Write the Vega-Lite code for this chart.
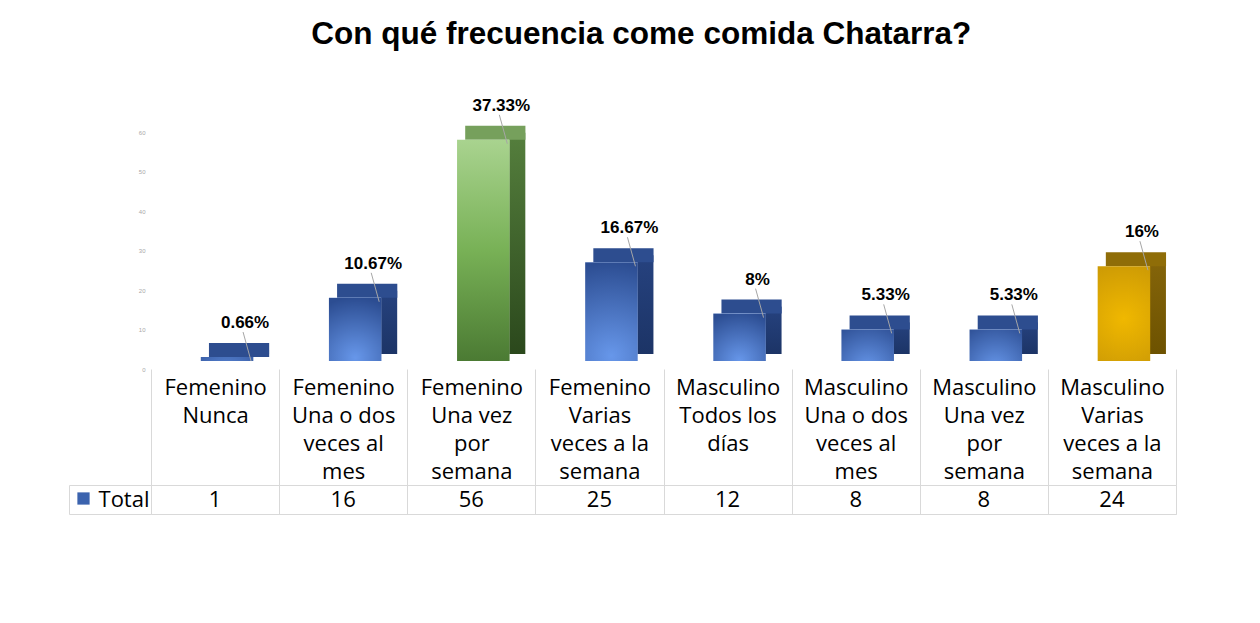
{
  "$schema": "https://vega.github.io/schema/vega-lite/v6.json",
  "background": "white",
  "padding": {"left": 68, "top": 19, "right": 80, "bottom": 100},
  "title": {"text": "Con qué frecuencia come comida Chatarra?", "font": "Liberation Sans", "fontSize": 31.5, "fontWeight": "bold", "color": "#000000", "anchor": "middle", "dx": 19, "offset": 46},
  "datasets": {
    "d": [
      {"Categoria": "Femenino\nNunca", "Total": 1, "Porcentaje": "0.66%"},
      {"Categoria": "Femenino\nUna o dos\nveces al\nmes", "Total": 16, "Porcentaje": "10.67%"},
      {"Categoria": "Femenino\nUna vez\npor\nsemana", "Total": 56, "Porcentaje": "37.33%"},
      {"Categoria": "Femenino\nVarias\nveces a la\nsemana", "Total": 25, "Porcentaje": "16.67%"},
      {"Categoria": "Masculino\nTodos los\ndías", "Total": 12, "Porcentaje": "8%"},
      {"Categoria": "Masculino\nUna o dos\nveces al\nmes", "Total": 8, "Porcentaje": "5.33%"},
      {"Categoria": "Masculino\nUna vez\npor\nsemana", "Total": 8, "Porcentaje": "5.33%"},
      {"Categoria": "Masculino\nVarias\nveces a la\nsemana", "Total": 24, "Porcentaje": "16%"}
    ]
  },
  "bounds": "flush",
  "spacing": 116,
  "resolve": {"scale": {"x": "independent", "y": "independent"}},
  "vconcat": [
    {
      "width": 1025,
      "height": 237,
      "data": {"name": "d"},
      "encoding": {
        "x": {
          "field": "Categoria", "type": "nominal", "sort": null,
          "scale": {"paddingInner": 0, "paddingOuter": 0},
          "axis": {
            "title": null, "domain": false, "ticks": true, "tickBand": "extent",
            "tickSize": 116, "tickColor": "#d9d9d9", "tickWidth": 1,
            "labelExpr": "split(datum.label, '\\n')", "labelAngle": 0,
            "labelBaseline": "top", "labelPadding": -108, "labelLineHeight": 28,
            "labelFont": "Open Sans", "labelFontSize": 22, "labelColor": "#000000",
            "labelLimit": 0, "labelOverlap": false, "labelBound": false, "labelFlush": false
          }
        },
        "y": {
          "field": "Total", "type": "quantitative",
          "scale": {"domain": [0, 60], "nice": false},
          "axis": {
            "title": null, "domain": false, "ticks": false, "grid": false,
            "values": [0, 10, 20, 30, 40, 50, 60],
            "labelFont": "Liberation Sans", "labelFontSize": 6, "labelColor": "#a8a8a8", "labelPadding": 6
          }
        }
      },
      "layer": [
        {
          "mark": {"type": "bar", "width": 16, "xOffset": 46, "yOffset": -15, "y2Offset": -15},
          "encoding": {
            "y2": {"datum": 0},
            "color": {
              "condition": [
                {"test": "datum.Total == 56", "value": {"gradient": "linear", "x1": 0, "y1": 0, "x2": 0, "y2": 1, "stops": [{"offset": 0, "color": "#557f3d"}, {"offset": 1, "color": "#2b481c"}]}},
                {"test": "datum.Total == 24", "value": {"gradient": "linear", "x1": 0, "y1": 0, "x2": 0, "y2": 1, "stops": [{"offset": 0, "color": "#85650a"}, {"offset": 1, "color": "#6d5200"}]}}
              ],
              "value": {"gradient": "linear", "x1": 0, "y1": 0, "x2": 0, "y2": 1, "stops": [{"offset": 0, "color": "#26427f"}, {"offset": 1, "color": "#1c3466"}]}
            }
          }
        },
        {
          "mark": {"type": "bar", "width": {"band": 0.47}, "xOffset": 24, "yOffset": -22, "y2Offset": -8},
          "encoding": {
            "y2": {"field": "Total"},
            "color": {
              "condition": [
                {"test": "datum.Total == 56", "value": "#76a05c"},
                {"test": "datum.Total == 24", "value": "#8f6d08"}
              ],
              "value": "#2d4d8f"
            }
          }
        },
        {
          "mark": {"type": "bar", "width": {"band": 0.41}, "xOffset": 12, "yOffset": -8, "y2Offset": -8},
          "encoding": {
            "y2": {"datum": 0},
            "color": {
              "condition": [
                {"test": "datum.Total == 56", "value": {"gradient": "linear", "x1": 0, "y1": 0, "x2": 0, "y2": 1, "stops": [{"offset": 0, "color": "#a9d38f"}, {"offset": 0.5, "color": "#78b156"}, {"offset": 1, "color": "#4b7a33"}]}},
                {"test": "datum.Total == 24", "value": {"gradient": "radial", "x1": 0.5, "y1": 0.55, "r1": 0, "x2": 0.5, "y2": 0.55, "r2": 0.75, "stops": [{"offset": 0, "color": "#f0b800"}, {"offset": 1, "color": "#c49306"}]}}
              ],
              "value": {"gradient": "radial", "x1": 0.5, "y1": 0.95, "r1": 0, "x2": 0.5, "y2": 0.95, "r2": 0.95, "stops": [{"offset": 0, "color": "#6797ea"}, {"offset": 1, "color": "#2c4d92"}]}
            }
          }
        },
        {
          "mark": {"type": "rule", "color": "#a6a6a6", "strokeWidth": 1, "xOffset": 28, "x2Offset": 36, "yOffset": -33, "y2Offset": -4},
          "encoding": {
            "x2": {"field": "Categoria"},
            "y2": {"field": "Total"}
          }
        },
        {
          "mark": {"type": "text", "font": "Liberation Sans", "fontWeight": "bold", "fontSize": 17, "color": "#000000", "dx": 30, "dy": -42, "baseline": "middle"},
          "encoding": {"text": {"field": "Porcentaje"}}
        }
      ]
    },
    {
      "width": 1025,
      "height": 29,
      "view": {"stroke": "#d9d9d9"},
      "data": {"name": "d"},
      "encoding": {
        "x": {
          "field": "Categoria", "type": "nominal", "sort": null,
          "scale": {"paddingInner": 0, "paddingOuter": 0},
          "axis": {"title": null, "labels": false, "ticks": false, "domain": false, "grid": true, "tickBand": "extent", "gridColor": "#d9d9d9", "gridOpacity": 1, "gridWidth": 1}
        },
        "y": {
          "datum": "Total", "type": "nominal",
          "scale": {"type": "band", "paddingInner": 0, "paddingOuter": 0},
          "axis": {
            "title": null, "domain": true, "domainColor": "#d9d9d9", "offset": 82,
            "ticks": true, "tickBand": "extent", "tickSize": -82, "tickColor": "#d9d9d9",
            "labelPadding": 2, "labelFont": "Open Sans", "labelFontSize": 22, "labelColor": "#000000", "grid": false
          }
        }
      },
      "layer": [
        {
          "mark": {"type": "text", "font": "Open Sans", "fontSize": 22, "color": "#000000", "baseline": "middle"},
          "encoding": {"text": {"field": "Total"}}
        },
        {
          "mark": {"type": "point", "shape": "square", "opacity": 0},
          "encoding": {
            "fill": {
              "datum": "Total",
              "scale": {"range": ["#3b63ae"]},
              "legend": {"orient": "none", "legendX": -74, "legendY": 360, "title": null, "labelExpr": "''", "symbolType": "square", "symbolSize": 150, "symbolOpacity": 1, "symbolStrokeWidth": 0, "padding": 0}
            }
          }
        }
      ]
    }
  ],
  "config": {"view": {"stroke": null}}
}
